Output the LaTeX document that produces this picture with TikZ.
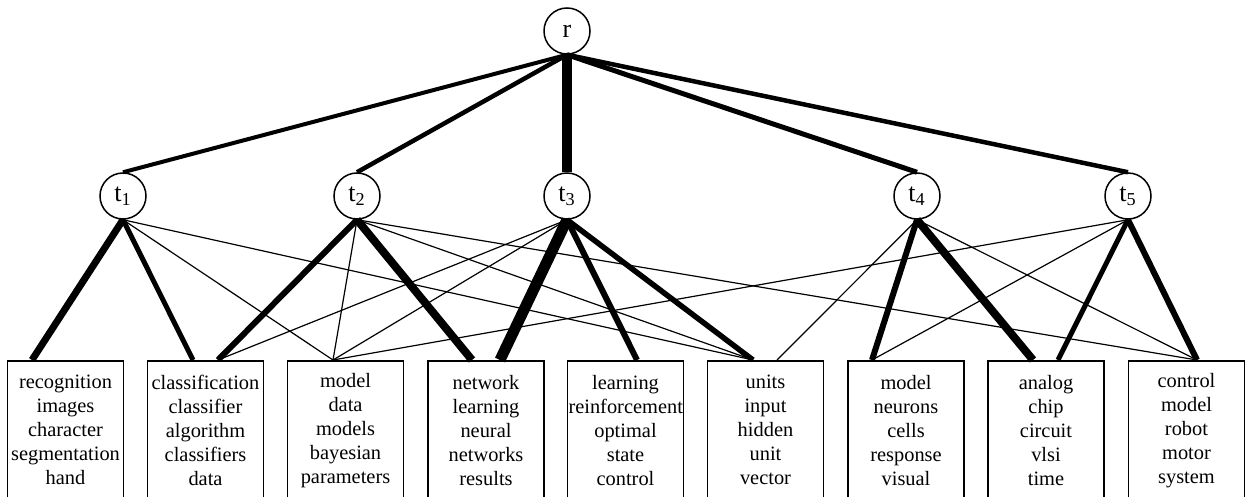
\documentclass[tikz,border=0pt]{standalone}
\usepackage{fontspec}
\setmainfont{Liberation Serif}
\usetikzlibrary{calc}

\begin{document}
\begin{tikzpicture}
		[x=0.5pt, y=-0.5pt,
		n/.style= {circle,draw,line width=0.75pt,minimum size=23pt,inner sep=0pt,fill=white,font=\fontsize{13}{15}\selectfont},
		wbox/.style= {draw,line width=0.8pt,anchor=north,text width=57pt,inner xsep=0.5pt,inner ysep=0.8pt,minimum height=69.5pt,align=center,font=\fontsize{10.2}{12}\selectfont},
		w/.style= {line width=#1},
		weak/.style= {line width=0.6pt}]

		\useasboundingbox (0,0) rectangle (1248,497);
		\clip (0,0) rectangle (1248,497);

		% word boxes
		\node[wbox] (b1) at (65.5,360) {recognition\\images\\character\\segmentation\\hand};
		\node[wbox] (b2) at (205.5,360) {classification\\classifier\\algorithm\\classifiers\\data};
		\node[wbox] (b3) at (345.5,360) {model\\data\\models\\bayesian\\parameters};
		\node[wbox] (b4) at (486,360) {network\\learning\\neural\\networks\\results};
		\node[wbox] (b5) at (625.5,360) {learning\\reinforcement\\optimal\\state\\control};
		\node[wbox] (b6) at (765.5,360) {units\\input\\hidden\\unit\\vector};
		\node[wbox] (b7) at (906,360) {model\\neurons\\cells\\response\\visual};
		\node[wbox] (b8) at (1046,360) {analog\\chip\\circuit\\vlsi\\time};
		\node[wbox] (b9) at (1186.5,360) {control\\model\\robot\\motor\\system};

		% topics
		\node[n] (r) at (567,31) {r};
		\node[n] (t1) at (123,196) {t\textsubscript{1}};
		\node[n] (t2) at (357,196) {t\textsubscript{2}};
		\node[n] (t3) at (567,196) {t\textsubscript{3}};
		\node[n] (t4) at (917,196) {t\textsubscript{4}};
		\node[n] (t5) at (1128,196) {t\textsubscript{5}};

		\path (r.south)
			edge [w=2pt]	(t1.north)
			edge [w=2.25pt]	(t2.north)
			edge [w=5pt]	(t3.north)
			edge [w=2.5pt]	(t4.north)
			edge [w=2.25pt]	(t5.north)
		;

		\path (t1.south)
			edge [w=3.5pt]	($(b1.north)+(-33.5,0)$)
			edge [w=2.5pt]	($(b2.north)+(-12.5,0)$)
			edge [weak]	($(b3.north)+(-12.5,0)$)
			edge [weak]	($(b6.north)+(-12.5,0)$)
		;

		\path (t2.south)
			edge [w=3pt]	($(b2.north)+(12.5,0)$)
			edge [w=4pt]	($(b4.north)+(-14,0)$)
			edge [weak]	($(b3.north)+(-12.5,0)$)
			edge [weak]	($(b6.north)+(-12.5,0)$)
			edge [weak]	($(b9.north)+(10.5,0)$)
		;

		\path (t3.south)
			edge [w=5.5pt]	($(b4.north)+(14,0)$)
			edge [w=3pt]	($(b5.north)+(11.5,0)$)
			edge [w=2.75pt]	($(b6.north)+(-12.5,0)$)
			edge [weak]	($(b2.north)+(12.5,0)$)
			edge [weak]	($(b3.north)+(-12.5,0)$)
		;

		\path (t4.south)
			edge [w=3pt]	($(b7.north)+(-34,0)$)
			edge [w=4pt]	($(b8.north)+(-13,0)$)
			edge [weak]	($(b6.north)+(11.5,0)$)
			edge [weak]	($(b9.north)+(10.5,0)$)
		;

		\path (t5.south)
			edge [w=2.5pt]	($(b8.north)+(12,0)$)
			edge [w=3pt]	($(b9.north)+(10.5,0)$)
			edge [weak]	($(b3.north)+(-12.5,0)$)
			edge [weak]	($(b7.north)+(-34,0)$)
		;

	\end{tikzpicture}
\end{document}
